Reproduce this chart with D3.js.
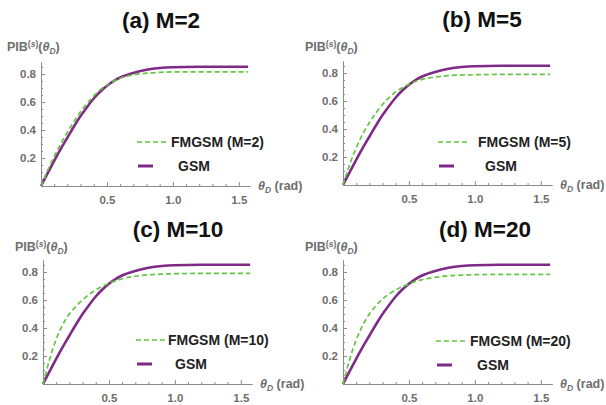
<!DOCTYPE html>
<html>
<head>
<meta charset="utf-8">
<script src="https://cdn.jsdelivr.net/npm/d3@7/dist/d3.min.js"></script>
<style>
  html, body { margin: 0; padding: 0; background: #fff; }
  svg { display: block; font-family: "Liberation Sans", Arial, sans-serif; }
</style>
</head>
<body>
<svg id="chart" width="606" height="405"></svg>
<script>
// Sampled angles theta_D (rad)
const theta = [0, 0.025, 0.05, 0.1, 0.15, 0.2, 0.25, 0.3, 0.35, 0.4, 0.45, 0.5, 0.55, 0.6, 0.7, 0.8, 0.9, 1.0, 1.2, 1.4, 1.5708];

// Power-in-bucket of the GSM source (same in every panel)
const gsm = [0, 0.045, 0.09, 0.18, 0.265, 0.345, 0.425, 0.5, 0.565, 0.625, 0.675, 0.717, 0.75, 0.775, 0.808, 0.83, 0.843, 0.849, 0.852, 0.852, 0.852];

// Power-in-bucket of the FMGSM source for each M
const fmgsmM2  = [0, 0.055, 0.11, 0.21, 0.30, 0.385, 0.46, 0.53, 0.59, 0.643, 0.688, 0.722, 0.75, 0.77, 0.794, 0.806, 0.812, 0.815, 0.816, 0.816, 0.816];
const fmgsmM5  = [0, 0.075, 0.145, 0.265, 0.365, 0.445, 0.515, 0.575, 0.625, 0.665, 0.695, 0.72, 0.74, 0.755, 0.772, 0.781, 0.786, 0.788, 0.79, 0.79, 0.79];
const fmgsmM10 = [0, 0.09, 0.175, 0.32, 0.425, 0.50, 0.555, 0.60, 0.64, 0.672, 0.698, 0.718, 0.737, 0.752, 0.77, 0.78, 0.785, 0.788, 0.79, 0.79, 0.79];
const fmgsmM20 = [0, 0.09, 0.175, 0.315, 0.42, 0.50, 0.56, 0.607, 0.643, 0.672, 0.695, 0.714, 0.732, 0.746, 0.762, 0.773, 0.778, 0.781, 0.783, 0.783, 0.783];

const panelTitles = ["(a) M=2", "(b) M=5", "(c) M=10", "(d) M=20"];
const legendLabels = ["FMGSM (M=2)", "FMGSM (M=5)", "FMGSM (M=10)", "FMGSM (M=20)"];
const xTicks = [0.5, 1.0, 1.5];
const yTicks = [0.2, 0.4, 0.6, 0.8];

const panels = [
  { ox: 41,  oy: 186, fm: fmgsmM2,  titleX: 161, titleY: 28,  labX: 7,   labY: 51,  legX: 137, legY: 142, txtX: 171 },
  { ox: 343, oy: 185, fm: fmgsmM5,  titleX: 482, titleY: 27,  labX: 305, labY: 51,  legX: 438, legY: 142, txtX: 478 },
  { ox: 43,  oy: 384, fm: fmgsmM10, titleX: 178, titleY: 237, labX: 15,  labY: 251, legX: 136, legY: 340, txtX: 168 },
  { ox: 343, oy: 384, fm: fmgsmM20, titleX: 485, titleY: 237, labX: 305, labY: 251, legX: 436, legY: 341, txtX: 470 }
];

const svg = d3.select("#chart");
const axisGray = "#8a8a8a";
const labelGray = "#6e6e6e";
const purple = "#7e2a86";
const green = "#62c63f";

const x = d3.scaleLinear().domain([0, 1.585]).range([0, 209]);
const y = d3.scaleLinear().domain([0, 0.886]).range([0, -124]);

const line = (vals) => d3.line()
  .x((d, i) => x(theta[i]))
  .y((d) => y(d))
  .curve(d3.curveMonotoneX)(vals);

panels.forEach((p, k) => {
  // panel title
  svg.append("text")
    .attr("x", p.titleX).attr("y", p.titleY)
    .attr("text-anchor", "middle")
    .attr("font-size", 22.5).attr("font-weight", "bold").attr("fill", "#111")
    .text(panelTitles[k]);

  // y-axis label PIB^(s)(theta_D)
  const yl = svg.append("text")
    .attr("x", p.labX).attr("y", p.labY)
    .attr("font-size", 12.5).attr("font-weight", "bold").attr("fill", labelGray);
  yl.append("tspan").text("PIB");
  yl.append("tspan").attr("dy", -4.5).attr("font-size", 8.5).text("(");
  yl.append("tspan").attr("font-size", 8.5).attr("font-style", "italic").text("s");
  yl.append("tspan").attr("font-size", 8.5).text(")");
  yl.append("tspan").attr("dy", 4.5).text("(");
  yl.append("tspan").attr("font-style", "italic").text("θ");
  yl.append("tspan").attr("dy", 3).attr("font-size", 8.5).attr("font-style", "italic").text("D");
  yl.append("tspan").attr("dy", -3).text(")");

  const g = svg.append("g").attr("transform", `translate(${p.ox},${p.oy})`);

  // minor ticks
  const xMinor = d3.axisBottom(x).tickValues(d3.range(1, 16).map(v => v / 10).filter(v => !xTicks.includes(v)))
    .tickSizeInner(-2).tickSizeOuter(0).tickFormat("");
  const yMinor = d3.axisLeft(y).tickValues(d3.range(1, 18).map(v => v / 20).filter(v => !yTicks.some(t => Math.abs(t - v) < 1e-9)))
    .tickSizeInner(-2).tickSizeOuter(0).tickFormat("");
  g.append("g").call(xMinor);
  g.append("g").call(yMinor);

  // major axes
  const xAxis = d3.axisBottom(x).tickValues(xTicks).tickSizeInner(-4).tickSizeOuter(0).tickPadding(10)
    .tickFormat(d3.format(".1f"));
  const yAxis = d3.axisLeft(y).tickValues(yTicks).tickSizeInner(-4).tickSizeOuter(0).tickPadding(5)
    .tickFormat(d3.format(".1f"));
  g.append("g").attr("class", "xa").call(xAxis);
  g.append("g").attr("class", "ya").call(yAxis);

  g.selectAll(".domain, .tick line").attr("stroke", axisGray).attr("stroke-width", 1);
  g.selectAll(".tick text").attr("fill", labelGray).attr("font-size", 11.5)
    .attr("font-weight", "bold").attr("font-family", "Liberation Sans, Arial, sans-serif");

  // x-axis label
  const xl = g.append("text")
    .attr("x", x(1.585) + 8).attr("y", 4)
    .attr("font-size", 12.5).attr("font-weight", "bold").attr("fill", labelGray);
  xl.append("tspan").attr("font-style", "italic").text("θ");
  xl.append("tspan").attr("dy", 3).attr("font-size", 8.5).attr("font-style", "italic").text("D");
  xl.append("tspan").attr("dy", -3).text(" (rad)");

  // curves
  g.append("path").attr("d", line(gsm))
    .attr("fill", "none").attr("stroke", purple).attr("stroke-width", 2.6);
  g.append("path").attr("d", line(p.fm))
    .attr("fill", "none").attr("stroke", green).attr("stroke-width", 1.7)
    .attr("stroke-dasharray", "5,3");

  // legend
  svg.append("line").attr("x1", p.legX).attr("x2", p.legX + 30)
    .attr("y1", p.legY).attr("y2", p.legY)
    .attr("stroke", green).attr("stroke-width", 1.7).attr("stroke-dasharray", "5,3");
  svg.append("text").attr("x", p.txtX).attr("y", p.legY + 5)
    .attr("font-size", 14).attr("font-weight", "bold").attr("fill", "#222")
    .text(legendLabels[k]);
  svg.append("line").attr("x1", p.legX + 1).attr("x2", p.legX + 16)
    .attr("y1", p.legY + 24).attr("y2", p.legY + 24)
    .attr("stroke", purple).attr("stroke-width", 3);
  svg.append("text").attr("x", p.txtX + 7).attr("y", p.legY + 29)
    .attr("font-size", 14).attr("font-weight", "bold").attr("fill", "#222")
    .text("GSM");
});
</script>
</body>
</html>
